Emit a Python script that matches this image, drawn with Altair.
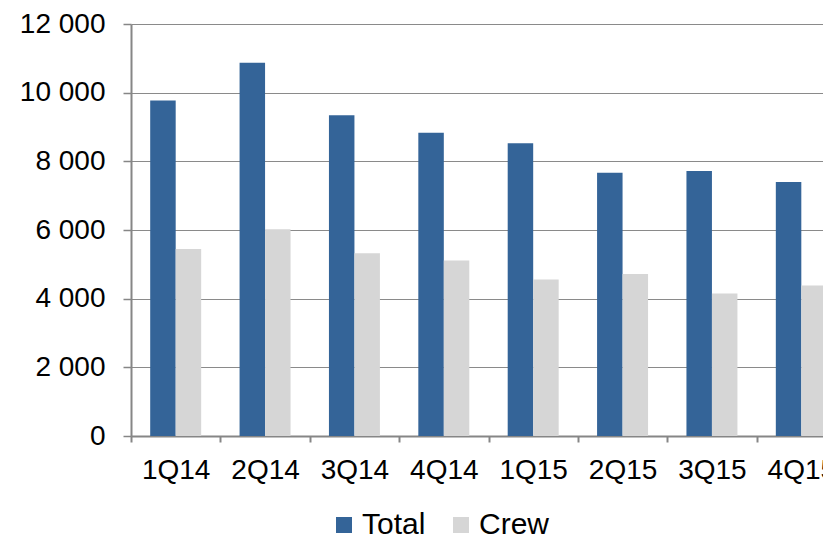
import altair as alt
import pandas as pd

quarters = ["1Q14", "2Q14", "3Q14", "4Q14", "1Q15", "2Q15", "3Q15", "4Q15"]
total = [9775, 10875, 9340, 8835, 8525, 7670, 7720, 7395]
crew = [5450, 6020, 5320, 5115, 4555, 4720, 4150, 4380]
series = ["Total", "Crew"]
colors = ["#346498", "#D6D6D6"]
y_ticks = [0, 2000, 4000, 6000, 8000, 10000, 12000]

rows = []
for q, t, c in zip(quarters, total, crew):
    rows.append({"quarter": q, "series": "Total", "value": t})
    rows.append({"quarter": q, "series": "Crew", "value": c})
df = pd.DataFrame(rows)

FONT = "Liberation Sans"

chart = alt.Chart(df).mark_bar().encode(
    x=alt.X(
        "quarter:N",
        sort=quarters,
        title=None,
        scale=alt.Scale(range=[0, 715], paddingInner=0, paddingOuter=0),
        axis=alt.Axis(
            labelAngle=0,
            labelFont=FONT,
            labelFontSize=28,
            labelColor="#000000",
            labelPadding=14,
            tickBand="extent",
            tickSize=6,
            tickColor="#868686",
            tickWidth=2,
            domainColor="#868686",
            domainWidth=2,
            grid=False,
        ),
    ),
    xOffset=alt.XOffset(
        "series:N",
        sort=series,
        scale=alt.Scale(domain=series, paddingInner=0, paddingOuter=0.753),
    ),
    y=alt.Y(
        "value:Q",
        title=None,
        scale=alt.Scale(domain=[0, 12000], nice=False),
        axis=alt.Axis(
            values=y_ticks,
            labelExpr="replace(format(datum.value, ',d'), ',', ' ')",
            labelFont=FONT,
            labelFontSize=28,
            labelColor="#000000",
            labelPadding=18,
            tickSize=8,
            tickColor="#868686",
            tickWidth=1.5,
            domainColor="#868686",
            domainWidth=2,
            grid=True,
            gridColor="#8A8A8A",
            gridWidth=1.2,
        ),
    ),
    color=alt.Color(
        "series:N",
        scale=alt.Scale(domain=series, range=colors),
        legend=alt.Legend(
            orient="none",
            legendX=198,
            legendY=486,
            direction="horizontal",
            title=None,
            symbolType="square",
            symbolSize=256,
            symbolStrokeWidth=0,
            labelFont=FONT,
            labelFontSize=30,
            labelColor="#000000",
            labelOffset=3,
            columnPadding=20,
            padding=0,
            symbolOffset=0,
        ),
    ),
).properties(
    width=692,
    height=412,
    autosize=alt.AutoSizeParams(type="none"),
    padding={"left": 123, "top": 16, "right": 0, "bottom": 105},
).configure_view(stroke=None)

chart.save("out.html", embed_options={"renderer": "svg", "actions": False})
